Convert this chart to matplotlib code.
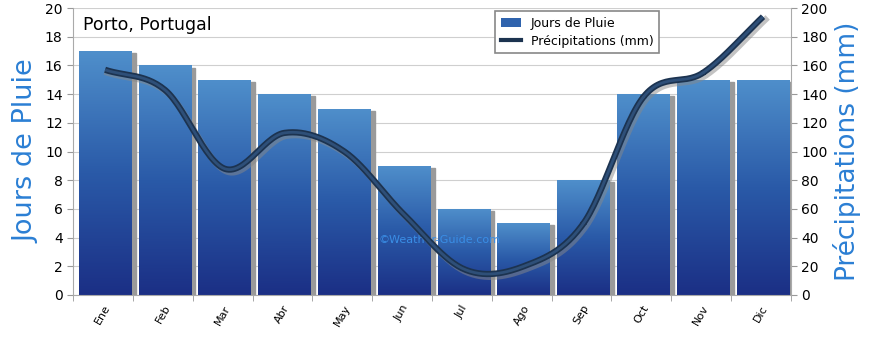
import numpy as np
import matplotlib
matplotlib.use("Agg")
import matplotlib.pyplot as plt
from matplotlib.patches import Rectangle

months = ["Ene", "Feb", "Mar", "Abr", "May", "Jun", "Jul", "Ago", "Sep", "Oct", "Nov", "Dic"]
rain_days = [17, 16, 15, 14, 13, 9, 6, 5, 8, 14, 15, 15]
precip_mm = [157, 143, 88, 113, 100, 56, 18, 20, 50, 138, 155, 194]

blue_lbl = "#2b7fd4"

fig = plt.figure(figsize=(8.7, 3.39), dpi=100)
ax = fig.add_axes([0.084, 0.13, 0.825, 0.846])
x = np.arange(len(months))
w = 0.88
off = 0.035

# gradient image used for bar fill
grad = np.linspace(0, 1, 256).reshape(-1, 1)
cmap = matplotlib.colors.LinearSegmentedColormap.from_list("b", ["#1b2f85", "#2a5aa8", "#4f8fcb"])

for xi, h in zip(x, rain_days):
    ax.add_patch(Rectangle((xi + off - w / 2 + 0.07, 0), w, h - 0.15, color="#9a9a9a", zorder=1))
    rect = Rectangle((xi + off - w / 2, 0), w, h, facecolor="none", edgecolor="none", zorder=2)
    ax.add_patch(rect)
    im = ax.imshow(grad, extent=(xi + off - w / 2, xi + off + w / 2, 0, h), origin="lower",
                   cmap=cmap, aspect="auto", zorder=2)
    im.set_clip_path(rect)

ax.set_xlim(-0.5, 11.5)
ax.set_ylim(0, 20)
ax.set_yticks(range(0, 21, 2))
ax.set_xticks(x)
ax.set_xticklabels(months, rotation=60, fontsize=8)
ax.set_xticks(np.arange(-0.5, 12, 1), minor=True)
ax.tick_params(axis="x", which="major", length=0, pad=6)
ax.tick_params(axis="x", which="minor", length=4, color="#999999")
ax.tick_params(axis="y", length=4, color="#999999", labelsize=10)
ax.grid(axis="y", color="#cfcfcf", linewidth=0.8, zorder=0)
ax.set_axisbelow(True)
for s in ["top", "right"]:
    ax.spines[s].set_visible(False)
ax.spines["left"].set_color("#aaaaaa")
ax.spines["bottom"].set_color("#aaaaaa")
ax.set_ylabel("Jours de Pluie", color=blue_lbl, fontsize=19.5)

ax2 = ax.twinx()
ax2.set_ylim(0, 200)
ax2.set_yticks(range(0, 201, 20))
ax2.tick_params(axis="y", length=4, color="#999999", labelsize=10)
for s in ["top", "left", "bottom"]:
    ax2.spines[s].set_visible(False)
ax2.spines["right"].set_color("#aaaaaa")
ax2.set_ylabel("Précipitations (mm)", color=blue_lbl, fontsize=19)

# smooth curve through the monthly points (Catmull-Rom)
pts = np.column_stack([x + off, precip_mm]).astype(float)
ext = np.vstack([2 * pts[0] - pts[1], pts, 2 * pts[-1] - pts[-2]])
t = np.linspace(0, 1, 30)[:, None]
seg = []
for i in range(1, len(ext) - 2):
    p0, p1, p2, p3 = ext[i - 1], ext[i], ext[i + 1], ext[i + 2]
    seg.append(0.5 * ((2 * p1) + (-p0 + p2) * t + (2 * p0 - 5 * p1 + 4 * p2 - p3) * t ** 2
                      + (-p0 + 3 * p1 - 3 * p2 + p3) * t ** 3))
curve = np.vstack(seg)
ax2.plot(curve[:, 0] + 0.04, curve[:, 1] - 2, color="#888888", lw=4.5, alpha=0.5, zorder=3)
ax2.plot(curve[:, 0], curve[:, 1], color="#1c3350", lw=4.5, zorder=4, solid_capstyle="butt")
ax2.plot(curve[:, 0], curve[:, 1], color="#2e4f78", lw=2, zorder=5, solid_capstyle="butt")

ax.text(0.014, 0.94, "Porto, Portugal", transform=ax.transAxes, fontsize=12.5, va="center")
ax.text(0.51, 0.19, "©Weather-Guide.com", transform=ax.transAxes, fontsize=8,
        color="#3a8ee6", ha="center", va="center", zorder=6)

# legend
h1 = Rectangle((0, 0), 1, 1, facecolor="#2f63ad")
h2 = plt.Line2D([], [], color="#1c3350", lw=3)
leg = ax2.legend([h1, h2], ["Jours de Pluie", "Précipitations (mm)"], loc="upper left",
                 bbox_to_anchor=(0.583, 1.003), fontsize=9, fancybox=False,
                 edgecolor="#888888", framealpha=1, borderpad=0.45, handlelength=1.6,
                 borderaxespad=0.3, labelspacing=0.4)
leg.get_frame().set_linewidth(1.2)
leg.set_zorder(10)

fig.savefig("out.png", dpi=100)
